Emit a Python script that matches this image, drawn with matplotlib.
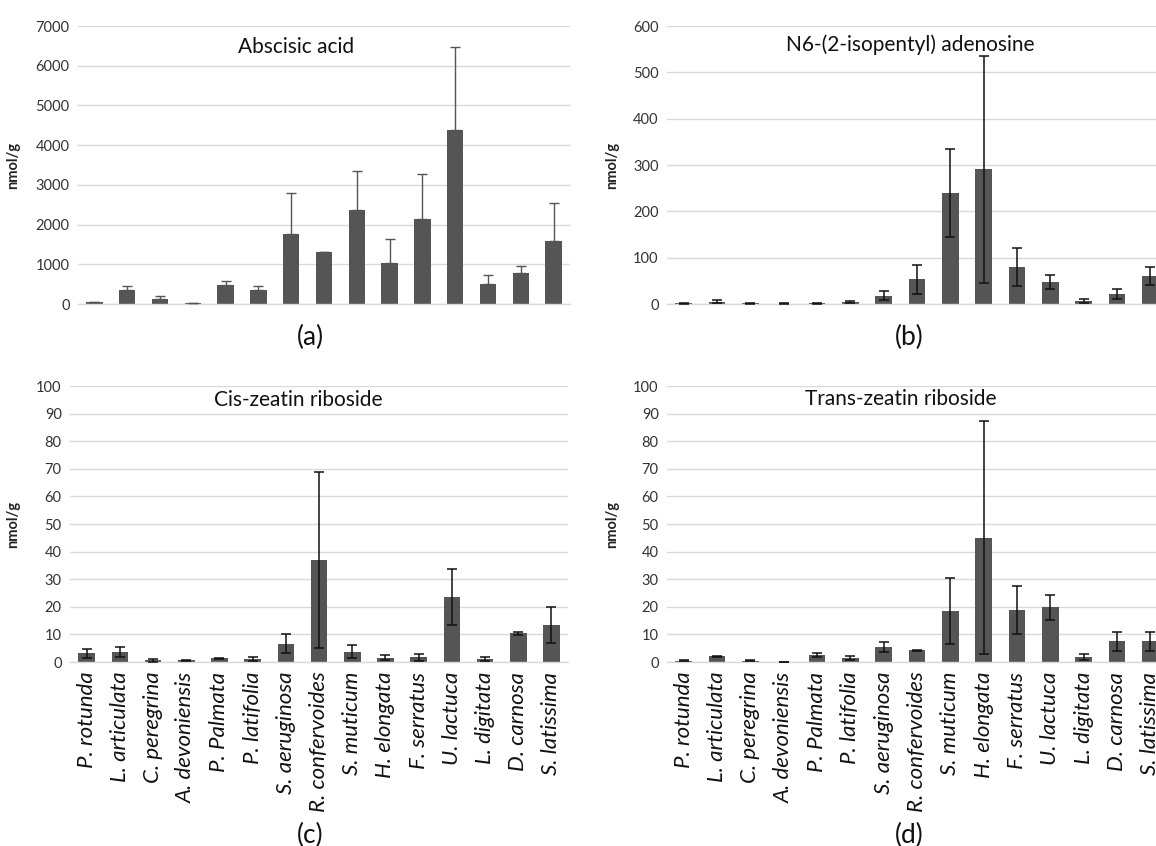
import matplotlib
matplotlib.use("Agg")
import matplotlib.pyplot as plt
import numpy as np

plt.rcParams['font.family'] = ['Lato', 'DejaVu Sans']

species = ["P. rotunda", "L. articulata", "C. peregrina", "A. devoniensis",
           "P. Palmata", "P. latifolia", "S. aeruginosa", "R. confervoides",
           "S. muticum", "H. elongata", "F. serratus", "U. lactuca",
           "L. digitata", "D. carnosa", "S. latissima"]

# (a) Abscisic acid
aba_mean = [40, 350, 125, 30, 490, 340, 1760, 1320, 2360, 1040, 2150, 4380, 505, 780, 1580]
aba_err = [20, 100, 75, 5, 90, 105, 1025, 0, 980, 600, 1130, 2090, 235, 185, 975]

# (b) N6-(2-isopentyl) adenosine
ipa_mean = [2, 5, 2, 1, 2, 5, 18, 53, 240, 291, 80, 48, 6, 22, 61]
ipa_err = [1, 3, 1, 0.5, 1, 2, 10, 31, 95, 245, 41, 15, 4, 11, 19]

# (c) Cis-zeatin riboside
czr_mean = [3.1, 3.7, 0.6, 0.6, 1.4, 1.1, 6.7, 37.0, 3.7, 1.6, 1.7, 23.6, 1.1, 10.4, 13.4]
czr_err = [1.7, 1.9, 0.6, 0.2, 0.2, 0.6, 3.5, 32.0, 2.3, 0.9, 1.2, 10.2, 0.6, 0.5, 6.6]

# (d) Trans-zeatin riboside
tzr_mean = [0.4, 2.0, 0.5, 0.1, 2.5, 1.3, 5.4, 4.2, 18.4, 45.1, 18.7, 19.8, 1.8, 7.5, 7.5]
tzr_err = [0.2, 0.2, 0.1, 0.05, 0.7, 0.7, 1.7, 0.1, 12.0, 42.2, 8.7, 4.6, 1.0, 3.5, 3.5]

titles = ["Abscisic acid", "N6-(2-isopentyl) adenosine",
          "Cis-zeatin riboside", "Trans-zeatin riboside"]
panel_labels = ["(a)", "(b)", "(c)", "(d)"]
ylims = [7000, 600, 100, 100]
ysteps = [1000, 100, 10, 10]

W, H = 1156, 846
fig = plt.figure(figsize=(W / 100, H / 100), dpi=100)

def px_axes(l, r, t, b):
    return fig.add_axes([l / W, 1 - b / H, (r - l) / W, (b - t) / H])

boxes = [(78, 570, 26, 304), (667, 1167, 26, 304),
         (70, 568, 386, 662), (667, 1167, 386, 662)]
title_pos = [(296, 47), (910, 45), (298, 400), (901, 399)]
label_pos = [(310, 337), (909, 337), (310, 835), (909, 835)]

data = [(aba_mean, aba_err), (ipa_mean, ipa_err), (czr_mean, czr_err), (tzr_mean, tzr_err)]

bar_color = "#555555"
grid_color = "#d9d9d9"
tick_color = "#333333"

for i, (box, (m, e)) in enumerate(zip(boxes, data)):
    ax = px_axes(*box)
    x = np.arange(len(species))
    m = np.array(m, dtype=float)
    e = np.array(e, dtype=float)
    ax.bar(x, m, width=0.5, color=bar_color, zorder=2)
    if i == 0:
        ax.errorbar(x, m, yerr=[np.zeros_like(e), e], fmt='none', ecolor="#555555",
                    elinewidth=1.0, capsize=3.5, capthick=1.0, zorder=3)
    else:
        ax.errorbar(x, m, yerr=e, fmt='none', ecolor="#111111",
                    elinewidth=1.1, capsize=3.5, capthick=1.1, zorder=3)
    ax.set_xlim(-0.5, len(species) - 0.5)
    ax.set_ylim(0, ylims[i])
    ax.set_yticks(np.arange(0, ylims[i] + 1, ysteps[i]))
    ax.yaxis.grid(True, color=grid_color, linewidth=1.0, zorder=0)
    ax.set_axisbelow(True)
    for s in ["top", "right", "left"]:
        ax.spines[s].set_visible(False)
    ax.spines["bottom"].set_color(grid_color)
    ax.spines["bottom"].set_linewidth(1.0)
    ax.tick_params(axis='y', length=0, pad=6, labelsize=10.5, labelcolor=tick_color)
    ax.tick_params(axis='x', length=0)
    if i >= 2:
        ax.set_xticks(x)
        ax.set_xticklabels(species, rotation=90, fontstyle='italic', fontsize=16,
                           color="#111111")
        ax.tick_params(axis='x', pad=7)
    else:
        ax.set_xticks([])
    ax.set_ylabel("nmol/g", fontsize=10.5, fontweight='bold', color="#222222")
    tx, ty = title_pos[i]
    fig.text(tx / W, 1 - ty / H, titles[i], fontsize=15, ha='center', va='center',
             color="#111111")
    lx, ly = label_pos[i]
    fig.text(lx / W, 1 - ly / H, panel_labels[i], fontsize=19, ha='center',
             va='center', color="#111111")

# y-label positions
fig.axes[0].yaxis.set_label_coords((20 - 78) / 492, 0.5)
fig.axes[1].yaxis.set_label_coords((619 - 667) / 500, 0.5)
fig.axes[2].yaxis.set_label_coords((20 - 70) / 498, 0.5)
fig.axes[3].yaxis.set_label_coords((619 - 667) / 500, 0.5)

fig.savefig("out.png", dpi=100)
